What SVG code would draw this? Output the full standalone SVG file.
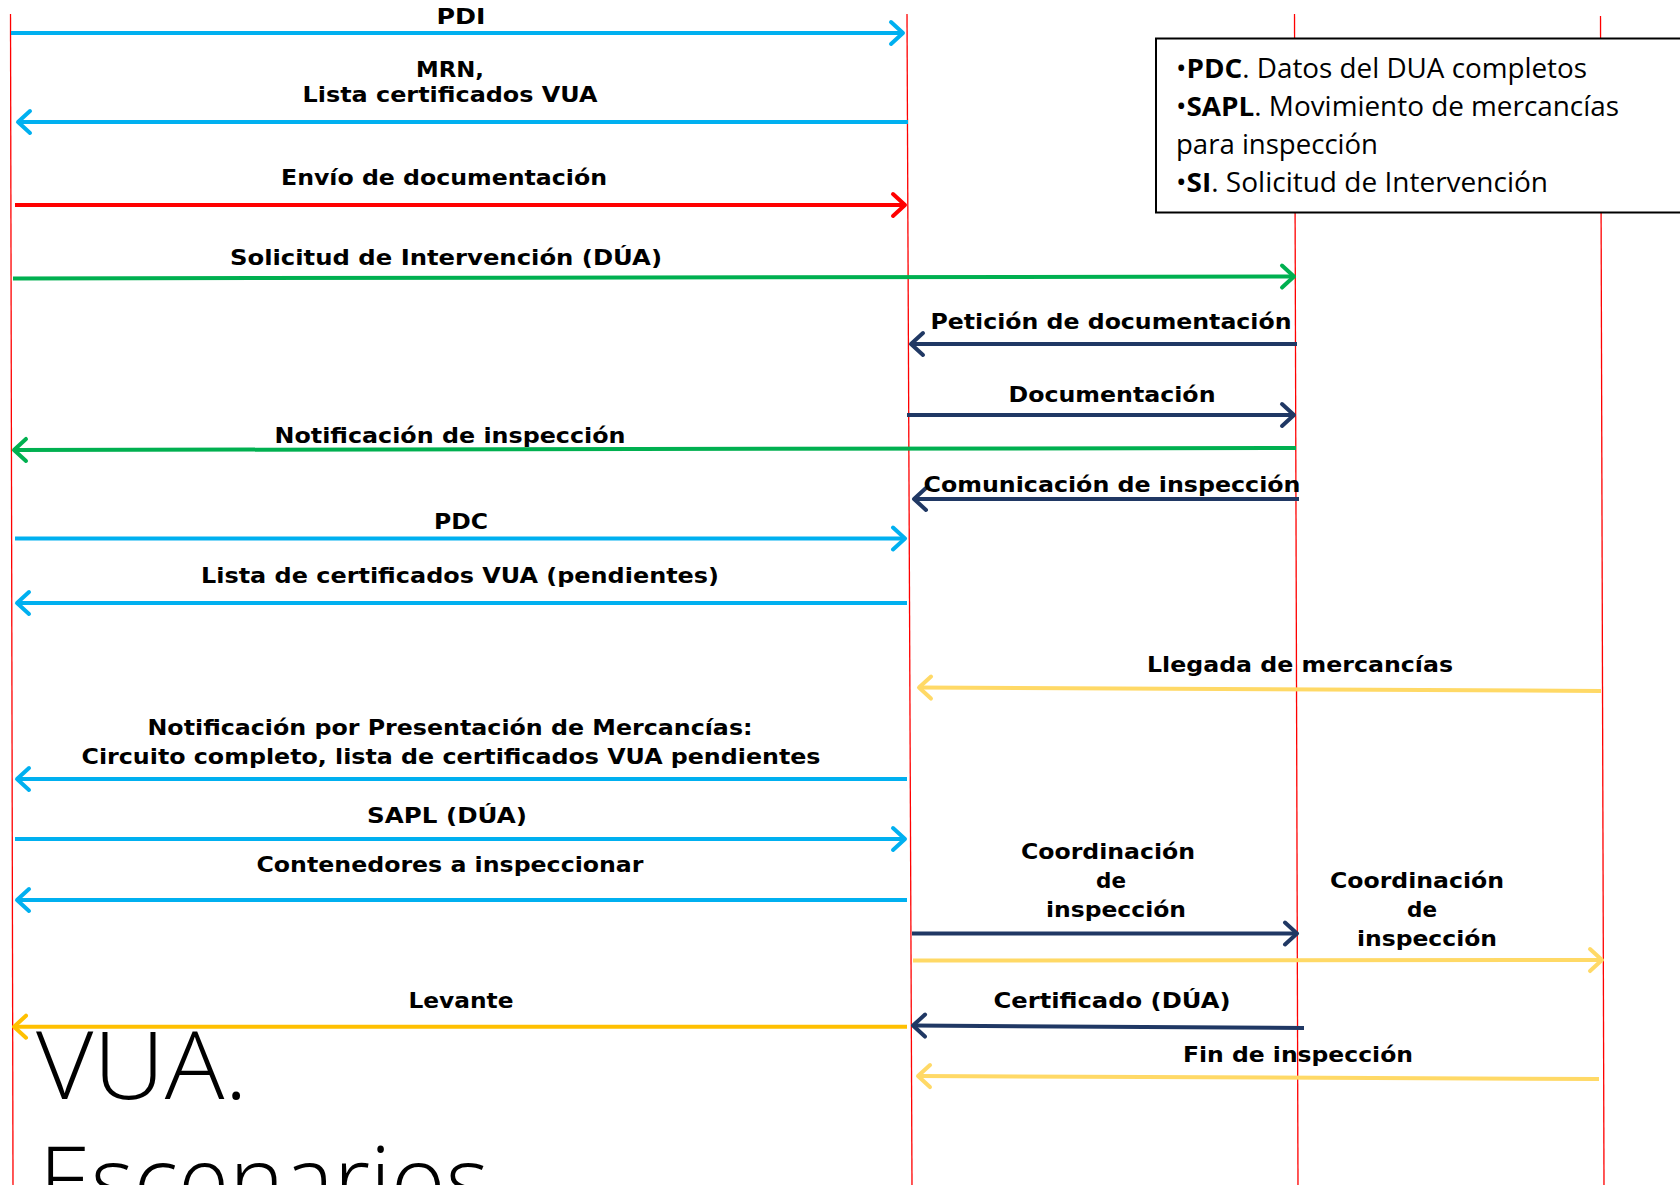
<svg xmlns="http://www.w3.org/2000/svg" width="1680" height="1185" viewBox="0 0 1680 1185">
<style>
.life{stroke:#FF0000;stroke-width:1.3;fill:none}
.msg{fill:none;stroke-width:4;stroke-linecap:butt}
.lbl{font-family:"DejaVu Sans","Verdana",sans-serif;font-weight:bold;font-size:21.5px;fill:#000;text-anchor:middle}
.note{font-family:"Open Sans","Noto Sans",sans-serif;font-size:26.5px;fill:#000}
.title{font-family:"Open Sans","Noto Sans",sans-serif;font-weight:300;font-size:94px;fill:#000}
.blue{stroke:#00B0F0}.red{stroke:#FF0000}.green{stroke:#00B050}.navy{stroke:#203864}.lyel{stroke:#FFD966}.orng{stroke:#FFC000}
</style>
<defs>
<marker id="hb" viewBox="-16 -14 20 28" markerWidth="20" markerHeight="28" refX="0" refY="0" orient="auto" markerUnits="userSpaceOnUse"><path d="M-12,-11 L0,0 L-12,11" fill="none" stroke="#00B0F0" stroke-width="4" stroke-linecap="round" stroke-linejoin="round"/></marker>
<marker id="hr" viewBox="-16 -14 20 28" markerWidth="20" markerHeight="28" refX="0" refY="0" orient="auto" markerUnits="userSpaceOnUse"><path d="M-12,-11 L0,0 L-12,11" fill="none" stroke="#FF0000" stroke-width="4" stroke-linecap="round" stroke-linejoin="round"/></marker>
<marker id="hg" viewBox="-16 -14 20 28" markerWidth="20" markerHeight="28" refX="0" refY="0" orient="auto" markerUnits="userSpaceOnUse"><path d="M-12,-11 L0,0 L-12,11" fill="none" stroke="#00B050" stroke-width="4" stroke-linecap="round" stroke-linejoin="round"/></marker>
<marker id="hn" viewBox="-16 -14 20 28" markerWidth="20" markerHeight="28" refX="0" refY="0" orient="auto" markerUnits="userSpaceOnUse"><path d="M-12,-11 L0,0 L-12,11" fill="none" stroke="#203864" stroke-width="4" stroke-linecap="round" stroke-linejoin="round"/></marker>
<marker id="hy" viewBox="-16 -14 20 28" markerWidth="20" markerHeight="28" refX="0" refY="0" orient="auto" markerUnits="userSpaceOnUse"><path d="M-12,-11 L0,0 L-12,11" fill="none" stroke="#FFD966" stroke-width="4" stroke-linecap="round" stroke-linejoin="round"/></marker>
<marker id="ho" viewBox="-16 -14 20 28" markerWidth="20" markerHeight="28" refX="0" refY="0" orient="auto" markerUnits="userSpaceOnUse"><path d="M-12,-11 L0,0 L-12,11" fill="none" stroke="#FFC000" stroke-width="4" stroke-linecap="round" stroke-linejoin="round"/></marker>
</defs>
<rect width="1680" height="1185" fill="#FFFFFF"/>
<g id="lifeline-1"><line class="life" x1="10.5" y1="14" x2="13" y2="1185"/></g>
<g id="lifeline-2"><line class="life" x1="907" y1="14" x2="912" y2="1185"/></g>
<g id="lifeline-3"><line class="life" x1="1294.5" y1="14" x2="1298" y2="1185"/></g>
<g id="lifeline-4"><line class="life" x1="1600.5" y1="16" x2="1604" y2="1185"/></g>
<g id="title">
<text class="title" x="36" y="1099" textLength="212" lengthAdjust="spacingAndGlyphs">VUA.</text>
<text class="title" x="39" y="1214" textLength="450" lengthAdjust="spacingAndGlyphs">Escenarios</text>
</g>
<g id="connectors">
<line class="msg blue" x1="11" y1="33" x2="903" y2="33" marker-end="url(#hb)"/>
<line class="msg blue" x1="908" y1="122" x2="18" y2="122" marker-end="url(#hb)"/>
<line class="msg red" x1="15" y1="205" x2="905" y2="205" marker-end="url(#hr)"/>
<line class="msg green" x1="13" y1="278.5" x2="1294" y2="276.5" marker-end="url(#hg)"/>
<line class="msg navy" x1="1297" y1="344" x2="911" y2="344" marker-end="url(#hn)"/>
<line class="msg navy" x1="907" y1="415" x2="1294" y2="415" marker-end="url(#hn)"/>
<line class="msg green" x1="1296" y1="448" x2="14" y2="450" marker-end="url(#hg)"/>
<line class="msg navy" x1="1299" y1="499" x2="914" y2="499" marker-end="url(#hn)"/>
<line class="msg blue" x1="15" y1="538.5" x2="905" y2="538.5" marker-end="url(#hb)"/>
<line class="msg blue" x1="907" y1="603" x2="17" y2="603" marker-end="url(#hb)"/>
<line class="msg lyel" x1="1601" y1="691" x2="919" y2="687.5" marker-end="url(#hy)"/>
<line class="msg blue" x1="907" y1="779" x2="17" y2="779" marker-end="url(#hb)"/>
<line class="msg blue" x1="15" y1="839" x2="905" y2="839" marker-end="url(#hb)"/>
<line class="msg blue" x1="907" y1="900" x2="17" y2="900" marker-end="url(#hb)"/>
<line class="msg navy" x1="912" y1="933.5" x2="1297" y2="933.5" marker-end="url(#hn)"/>
<line class="msg lyel" x1="913" y1="960.5" x2="1602" y2="960" marker-end="url(#hy)"/>
<line class="msg navy" x1="1304" y1="1028" x2="913" y2="1025.5" marker-end="url(#hn)"/>
<line class="msg orng" x1="907" y1="1026.7" x2="14" y2="1026.7" marker-end="url(#ho)"/>
<line class="msg lyel" x1="1599" y1="1079" x2="918" y2="1076" marker-end="url(#hy)"/>
</g>
<g id="labels">
<text class="lbl" x="461" y="23.5" textLength="49" lengthAdjust="spacingAndGlyphs">PDI</text>
<text class="lbl" x="450" y="76.5" textLength="68" lengthAdjust="spacingAndGlyphs">MRN,</text>
<text class="lbl" x="450" y="101.5" textLength="295" lengthAdjust="spacingAndGlyphs">Lista certificados VUA</text>
<text class="lbl" x="444" y="185" textLength="326" lengthAdjust="spacingAndGlyphs">Envío de documentación</text>
<text class="lbl" x="446" y="265" textLength="432" lengthAdjust="spacingAndGlyphs">Solicitud de Intervención (DÚA)</text>
<text class="lbl" x="1111" y="329" textLength="361" lengthAdjust="spacingAndGlyphs">Petición de documentación</text>
<text class="lbl" x="1112" y="401.5" textLength="207" lengthAdjust="spacingAndGlyphs">Documentación</text>
<text class="lbl" x="450" y="443" textLength="351" lengthAdjust="spacingAndGlyphs">Notificación de inspección</text>
<text class="lbl" x="1112" y="491.5" textLength="377" lengthAdjust="spacingAndGlyphs">Comunicación de inspección</text>
<text class="lbl" x="461" y="529" textLength="54" lengthAdjust="spacingAndGlyphs">PDC</text>
<text class="lbl" x="460" y="583" textLength="518" lengthAdjust="spacingAndGlyphs">Lista de certificados VUA (pendientes)</text>
<text class="lbl" x="1300" y="672" textLength="306" lengthAdjust="spacingAndGlyphs">Llegada de mercancías</text>
<text class="lbl" x="450" y="735" textLength="605" lengthAdjust="spacingAndGlyphs">Notificación por Presentación de Mercancías:</text>
<text class="lbl" x="451" y="764" textLength="739" lengthAdjust="spacingAndGlyphs">Circuito completo, lista de certificados VUA pendientes</text>
<text class="lbl" x="447" y="823" textLength="160" lengthAdjust="spacingAndGlyphs">SAPL (DÚA)</text>
<text class="lbl" x="450" y="871.5" textLength="387" lengthAdjust="spacingAndGlyphs">Contenedores a inspeccionar</text>
<text class="lbl" x="1108" y="859" textLength="174" lengthAdjust="spacingAndGlyphs">Coordinación</text>
<text class="lbl" x="1111" y="888">de</text>
<text class="lbl" x="1116" y="917" textLength="140" lengthAdjust="spacingAndGlyphs">inspección</text>
<text class="lbl" x="1417" y="887.5" textLength="174" lengthAdjust="spacingAndGlyphs">Coordinación</text>
<text class="lbl" x="1422" y="916.5">de</text>
<text class="lbl" x="1427" y="945.5" textLength="140" lengthAdjust="spacingAndGlyphs">inspección</text>
<text class="lbl" x="1112" y="1008" textLength="237" lengthAdjust="spacingAndGlyphs">Certificado (DÚA)</text>
<text class="lbl" x="461" y="1008" textLength="105" lengthAdjust="spacingAndGlyphs">Levante</text>
<text class="lbl" x="1298" y="1061.5" textLength="230" lengthAdjust="spacingAndGlyphs">Fin de inspección</text>
</g>
<g id="legend">
<rect x="1156" y="38.5" width="530" height="174" fill="#FFFFFF" stroke="#000000" stroke-width="2"/>
<text class="note" x="1176" y="78" textLength="411" lengthAdjust="spacingAndGlyphs">•<tspan font-weight="bold">PDC</tspan>. Datos del DUA completos</text>
<text class="note" x="1176" y="116" textLength="443" lengthAdjust="spacingAndGlyphs">•<tspan font-weight="bold">SAPL</tspan>. Movimiento de mercancías</text>
<text class="note" x="1176" y="154" textLength="202" lengthAdjust="spacingAndGlyphs">para inspección</text>
<text class="note" x="1176" y="192" textLength="372" lengthAdjust="spacingAndGlyphs">•<tspan font-weight="bold">SI</tspan>. Solicitud de Intervención</text>
</g>
</svg>
